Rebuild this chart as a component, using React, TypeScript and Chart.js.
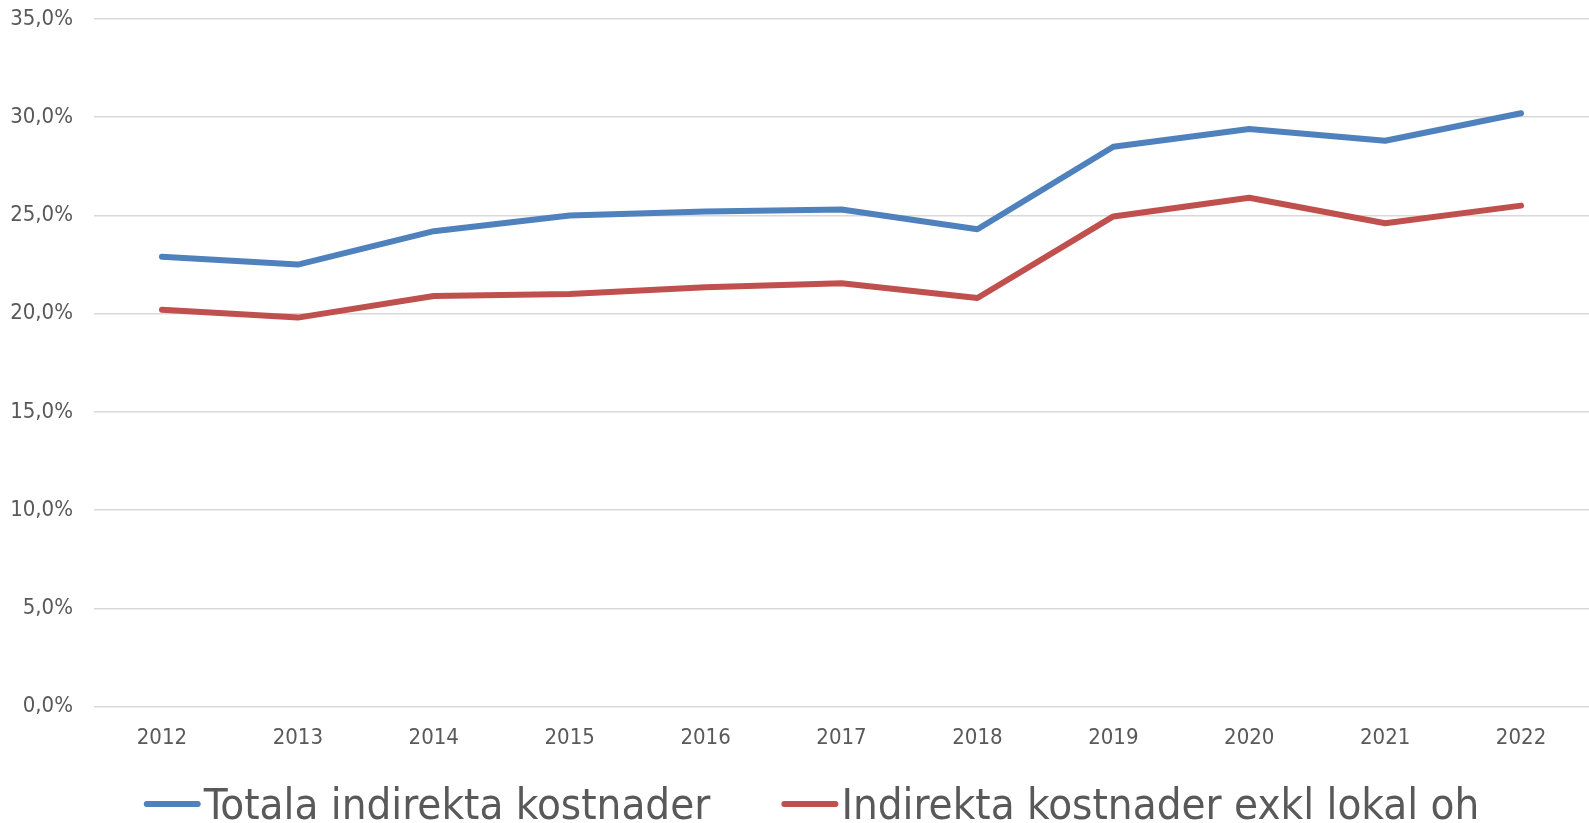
import React, { useEffect, useRef } from 'react';
import { Chart, registerables } from 'chart.js';

Chart.register(...registerables);

const years = ['2012', '2013', '2014', '2015', '2016', '2017', '2018', '2019', '2020', '2021', '2022'];
const totalIndirect = [22.9, 22.5, 24.2, 25.0, 25.2, 25.3, 24.3, 28.5, 29.4, 28.8, 30.2];
const indirectExclLokal = [20.2, 19.8, 20.9, 21.0, 21.35, 21.55, 20.8, 24.95, 25.9, 24.6, 25.5];
const seriesLabels = ['Totala indirekta kostnader', 'Indirekta kostnader exkl lokal oh'];
const seriesColors = ['#4F81BD', '#C0504D'];
const yMin = 0;
const yMax = 35;
const yStep = 5;

const FONT = '"Liberation Sans Narrow", "DejaVu Sans Condensed", "Open Sans", sans-serif';
const TEXT_COLOR = '#595959';
const TICK_SIZE = 22;
const LEGEND_SIZE = 43.5;

const legendPlugin = {
  id: 'excelLegend',
  afterDraw(chart: any) {
    const ctx = chart.ctx;
    ctx.save();
    ctx.font = `${LEGEND_SIZE}px ${FONT}`;
    const lineLen = 57;
    const gapText = 3;
    const gapItems = 71;
    const items = chart.data.datasets.map((ds: any) => ({
      text: ds.label,
      color: ds.borderColor,
      w: ctx.measureText(ds.label).width,
    }));
    const total =
      items.reduce((s: number, it: any) => s + lineLen + gapText + it.w, 0) + gapItems * (items.length - 1);
    let x = chart.width / 2 + 17 - total / 2;
    const lineY = chart.height - 19;
    const baseY = chart.height - 4;
    items.forEach((it: any) => {
      ctx.strokeStyle = it.color;
      ctx.lineWidth = 6;
      ctx.lineCap = 'round';
      ctx.beginPath();
      ctx.moveTo(x + 3, lineY);
      ctx.lineTo(x + lineLen - 3, lineY);
      ctx.stroke();
      ctx.fillStyle = TEXT_COLOR;
      ctx.textAlign = 'left';
      ctx.textBaseline = 'alphabetic';
      ctx.fillText(it.text, x + lineLen + gapText, baseY);
      x += lineLen + gapText + it.w + gapItems;
    });
    ctx.restore();
  },
};

export default function App() {
  const canvasRef = useRef<HTMLCanvasElement | null>(null);

  useEffect(() => {
    document.body.style.margin = '0';
    const canvas = canvasRef.current;
    if (!canvas) return;
    const chart = new Chart(canvas, {
      type: 'line',
      data: {
        labels: years,
        datasets: [
          {
            label: seriesLabels[0],
            data: totalIndirect,
            borderColor: seriesColors[0],
            backgroundColor: seriesColors[0],
            borderWidth: 6,
            pointRadius: 0,
            tension: 0,
            borderCapStyle: 'round',
            borderJoinStyle: 'round',
          },
          {
            label: seriesLabels[1],
            data: indirectExclLokal,
            borderColor: seriesColors[1],
            backgroundColor: seriesColors[1],
            borderWidth: 6,
            pointRadius: 0,
            tension: 0,
            borderCapStyle: 'round',
            borderJoinStyle: 'round',
          },
        ],
      },
      options: {
        animation: false,
        responsive: false,
        maintainAspectRatio: false,
        layout: { padding: { top: 19, right: 0, bottom: 54, left: 0 } },
        plugins: {
          legend: { display: false },
          tooltip: { enabled: false },
        },
        scales: {
          x: {
            offset: true,
            grid: { display: false, drawTicks: false },
            border: { display: false },
            afterFit: (s: any) => {
              s.paddingLeft = 0;
              s.paddingRight = 0;
            },
            ticks: {
              color: TEXT_COLOR,
              font: { family: FONT, size: TICK_SIZE },
              padding: 18,
              maxRotation: 0,
            },
          },
          y: {
            min: yMin,
            max: yMax,
            afterFit: (s: any) => {
              s.width = 94;
              s.paddingTop = 0;
              s.paddingBottom = 0;
            },
            grid: { color: '#D9D9D9', lineWidth: 1.5, drawTicks: false },
            border: { display: false },
            ticks: {
              stepSize: yStep,
              color: TEXT_COLOR,
              font: { family: FONT, size: TICK_SIZE },
              padding: 21,
              callback: (v: any) => Number(v).toFixed(1).replace('.', ',') + '%',
            },
          },
        },
      },
      plugins: [legendPlugin],
    });
    return () => chart.destroy();
  }, []);

  return <canvas ref={canvasRef} width={1589} height={823} style={{ display: 'block' }} />;
}
